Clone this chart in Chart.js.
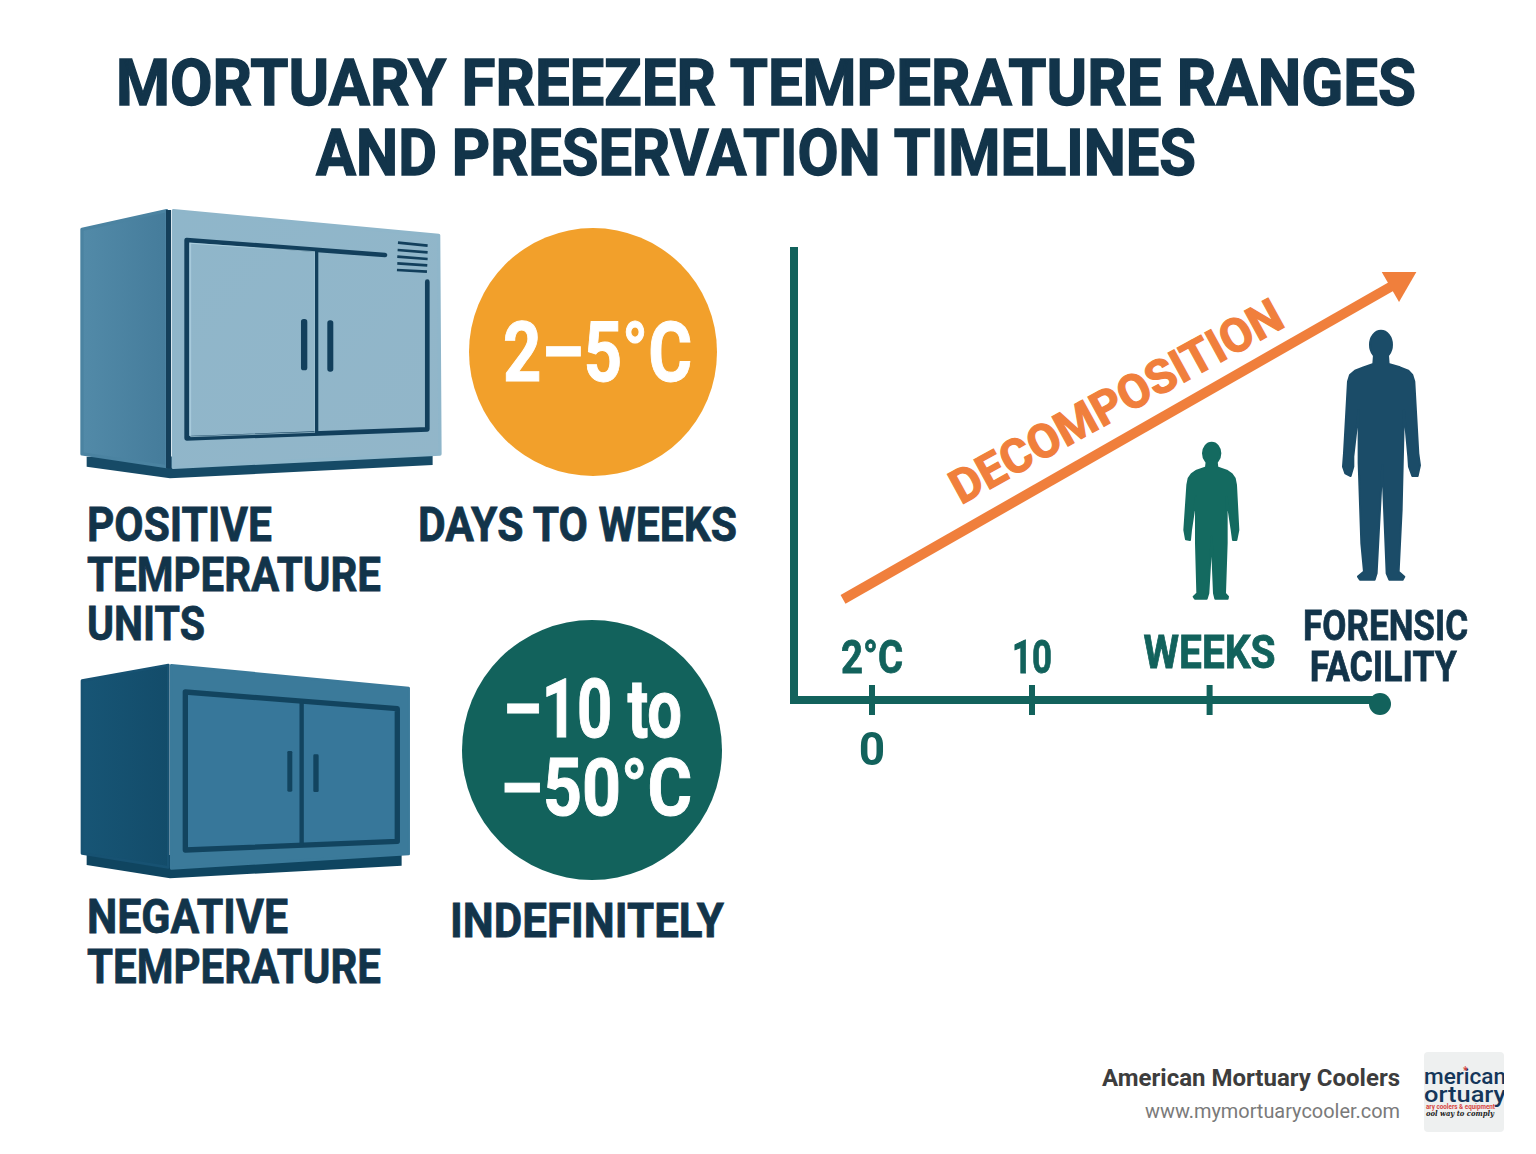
<!DOCTYPE html>
<html>
<head>
<meta charset="utf-8">
<title>Mortuary Freezer Temperature Ranges and Preservation Timelines</title>
<script src="https://cdn.jsdelivr.net/npm/chart.js@4"></script>
<style>
html,body{margin:0;padding:0;background:#fff;width:1536px;height:1154px;overflow:hidden}
svg{position:absolute;left:0;top:0}
canvas{position:absolute;left:770px;top:230px}
text{font-family:Roboto,sans-serif;font-weight:700}
.h{stroke:#12344a;stroke-width:1.4px}
.s{stroke:#12344a;stroke-width:.8px}
</style>
</head>
<body>
<svg width="1536" height="1154" viewBox="0 0 1536 1154" xmlns="http://www.w3.org/2000/svg">
<defs>
<linearGradient id="s1" x1="0" x2="1" y1="0" y2="0"><stop offset="0" stop-color="#528aa8"/><stop offset="1" stop-color="#457c9b"/></linearGradient>
<linearGradient id="f1" x1="0" x2="1" y1="0" y2="1"><stop offset="0" stop-color="#8fb6ca"/><stop offset="1" stop-color="#92b6c9"/></linearGradient>
<linearGradient id="s2" x1="0" x2="1" y1="0" y2="0"><stop offset="0" stop-color="#175575"/><stop offset="1" stop-color="#134c6a"/></linearGradient>
<clipPath id="logoClip"><rect x="1424" y="1052" width="80" height="80" rx="4"/></clipPath>
</defs>

<g fill="#12344a">
<text class="h" x="116" y="105" font-size="65" textLength="1300" lengthAdjust="spacingAndGlyphs">MORTUARY FREEZER TEMPERATURE RANGES</text>
<text class="h" x="316" y="175" font-size="65" textLength="880" lengthAdjust="spacingAndGlyphs">AND PRESERVATION TIMELINES</text>
<text class="s" x="87" y="541" font-size="49" textLength="185" lengthAdjust="spacingAndGlyphs">POSITIVE</text>
<text class="s" x="87" y="591" font-size="49" textLength="294" lengthAdjust="spacingAndGlyphs">TEMPERATURE</text>
<text class="s" x="87" y="640" font-size="49" textLength="118" lengthAdjust="spacingAndGlyphs">UNITS</text>
<text class="s" x="418" y="541" font-size="49" textLength="319" lengthAdjust="spacingAndGlyphs">DAYS TO WEEKS</text>
<text class="s" x="87" y="933" font-size="49" textLength="201" lengthAdjust="spacingAndGlyphs">NEGATIVE</text>
<text class="s" x="87" y="983" font-size="49" textLength="294" lengthAdjust="spacingAndGlyphs">TEMPERATURE</text>
<text class="s" x="450" y="937" font-size="49" textLength="274" lengthAdjust="spacingAndGlyphs">INDEFINITELY</text>
</g>

<!-- freezer 1 -->
<g transform="translate(60,200) scale(0.3333)" stroke-linejoin="round" stroke-linecap="round">
<polygon points="80,770 80,800 330,835 1118,795 1118,768" fill="#164a66"/>
<polygon points="66,88 320,32 320,800 66,762" fill="url(#s1)" stroke="#4b83a1" stroke-width="10"/>
<polygon points="340,32 1136,106 1140,762 340,802" fill="url(#f1)" stroke="#8fb6ca" stroke-width="10"/>
<rect x="318" y="30" width="15" height="775" fill="#143f5a"/>
<polyline points="975,165 380,120 380,715 1102,688 1102,245" fill="none" stroke="#123f5c" stroke-width="14"/>
<polyline points="392,130 765,155 765,697 392,710 392,130" fill="none" stroke="#b9dbe9" stroke-width="2"/>
<line x1="770" y1="155" x2="770" y2="695" stroke="#123f5c" stroke-width="10"/>
<rect x="723" y="357" width="19" height="154" rx="8" fill="#123f5c"/>
<rect x="802" y="361" width="18" height="154" rx="8" fill="#123f5c"/>
<g stroke="#123f5c" stroke-width="8" stroke-linecap="butt">
<line x1="1014" y1="128" x2="1103" y2="137"/>
<line x1="1013" y1="150" x2="1103" y2="157"/>
<line x1="1012" y1="170" x2="1103" y2="177"/>
<line x1="1012" y1="190" x2="1102" y2="196"/>
<line x1="1011" y1="210" x2="1101" y2="215"/>
</g>
</g>

<!-- freezer 2 -->
<g transform="translate(60,650) scale(0.3333)" stroke-linejoin="round" stroke-linecap="round">
<polygon points="80,615 80,645 330,685 1025,647 1025,615" fill="#0f4560"/>
<polygon points="66,92 325,45 325,652 66,610" fill="url(#s2)" stroke="#175272" stroke-width="8"/>
<polygon points="334,46 1046,114 1046,612 334,655" fill="#3b7a9a" stroke="#3b7a9a" stroke-width="8"/>
<polygon points="376,126 1012,176 1012,574 376,600" fill="#37779a" stroke="#12445f" stroke-width="16"/>
<line x1="725" y1="155" x2="725" y2="582" stroke="#12445f" stroke-width="13"/>
<rect x="682" y="303" width="15" height="122" rx="4" fill="#12445f"/>
<rect x="760" y="313" width="16" height="113" rx="4" fill="#12445f"/>
</g>

<circle cx="593" cy="352" r="124" fill="#f2a02b"/>
<text x="503" y="381" font-size="84" fill="#fff" stroke="#fff" stroke-width="1" textLength="189" lengthAdjust="spacingAndGlyphs">2–5°C</text>
<circle cx="592" cy="750" r="130" fill="#12625c"/>
<text x="503" y="737" font-size="82" fill="#fff" stroke="#fff" stroke-width="1" textLength="179" lengthAdjust="spacingAndGlyphs">–10 to</text>
<text x="500" y="815" font-size="80" fill="#fff" stroke="#fff" stroke-width="1" textLength="192" lengthAdjust="spacingAndGlyphs">–50°C</text>

<!-- figures -->
<g transform="translate(1160,310) scale(0.3333)" stroke-width="6" stroke-linejoin="round">
<g fill="#1b4c68" stroke="#1b4c68">
<ellipse cx="663" cy="104" rx="33" ry="42"/>
<polygon points="642,135 684,135 686,162 720,172 745,182 757,195 763,215 775,430 780,466 773,498 757,498 747,470 745,440 732,300 725,600 716,785 733,800 728,809 688,809 680,790 667,465 650,790 644,809 600,809 594,800 612,785 604,700 596,460 596,300 580,440 580,470 572,498 556,490 549,470 552,430 564,215 570,195 585,182 610,172 640,162"/>
</g>
<g fill="#146a60" stroke="#146a60">
<ellipse cx="155" cy="430" rx="26" ry="32"/>
<polygon points="140,455 170,455 172,472 200,482 215,492 224,505 228,525 235,660 229,690 219,690 215,660 200,560 200,700 195,850 204,860 203,866 166,866 162,850 155,680 145,850 140,866 105,866 101,860 112,850 108,700 108,560 93,660 90,690 78,688 73,660 82,525 86,505 95,492 110,482 138,472"/>
</g>
</g>

<text transform="translate(961,505) rotate(-28.8)" font-size="47" fill="#f07f3c" stroke="#f07f3c" stroke-width="1.2" textLength="372" lengthAdjust="spacingAndGlyphs">DECOMPOSITION</text>

<!-- footer -->
<text x="1102" y="1086" font-size="24" fill="#3d3d3d" font-weight="600" textLength="298" lengthAdjust="spacingAndGlyphs">American Mortuary Coolers</text>
<text x="1145" y="1118" font-size="20" fill="#7a7a7a" style="font-weight:400" textLength="255" lengthAdjust="spacingAndGlyphs">www.mymortuarycooler.com</text>
<rect x="1424" y="1052" width="80" height="80" rx="4" fill="#eef0f0"/>
<g clip-path="url(#logoClip)">
<text x="1424" y="1084" font-size="22" fill="#14365a" style="font-weight:500" textLength="82" lengthAdjust="spacingAndGlyphs">merican</text>
<text x="1424" y="1102" font-size="22" fill="#14365a" style="font-weight:500" textLength="82" lengthAdjust="spacingAndGlyphs">ortuary</text>
<text x="1426" y="1109" font-size="7.5" fill="#d6443f" textLength="69" lengthAdjust="spacingAndGlyphs">ary coolers &amp; equipment</text>
<text x="1426" y="1116" font-size="8" fill="#222" style="font-family:'DejaVu Serif';font-style:italic" textLength="68" lengthAdjust="spacingAndGlyphs">ool way to comply</text>
<text x="1463" y="1074" font-size="10" fill="#d6443f">*</text>
</g>
</svg>

<canvas id="c" width="720" height="560"></canvas>

<script>
// X axis positions (temperature / time scale)
const tickValues = [0, 10, 21.1];
const axisEnd = 31.75;
const lowerLabels = ["0", "", ""];
const upperLabels = ["2°C", "10", "WEEKS", "FORENSIC", "FACILITY"];
const upperLabelX = [0, 10, 21.1, 32.1, 31.95];
// Decomposition trend
const trendX = [-1.81, 32.94];
const trendY = [22.4, 93.1];
const tickMarkY = [0, 0, 0];
const endMarkY = -0.9;

const TEAL = '#12625c', NAVY = '#12344a', ORANGE = '#f07f3c';

const upperStyle = [
  {dy:-27, w:62, c:TEAL}, {dy:-27, w:40, c:TEAL}, {dy:-32, w:132, c:TEAL},
  {dy:-60, w:165, c:NAVY}, {dy:-19, w:147, c:NAVY}
];

const upperLabelPlugin = {
  id: 'upperLabels',
  afterDatasetsDraw(chart) {
    const {ctx, scales:{x, y}} = chart;
    ctx.save();
    ctx.textAlign = 'center';
    ctx.textBaseline = 'alphabetic';
    ctx.lineWidth = 0.8;
    upperLabels.forEach((t, i) => {
      const st = upperStyle[i];
      ctx.font = '700 ' + (i > 2 ? 43 : 46) + 'px Roboto, sans-serif';
      ctx.fillStyle = st.c;
      ctx.strokeStyle = st.c;
      const px = x.getPixelForValue(upperLabelX[i]), py = y.getPixelForValue(0) + st.dy;
      ctx.fillText(t, px, py, st.w);
      ctx.strokeText(t, px, py, st.w);
    });
    ctx.restore();
  }
};

new Chart(document.getElementById('c'), {
  type: 'scatter',
  data: {
    datasets: [
      {
        label: 'Decomposition',
        showLine: true,
        data: trendX.map((v, i) => ({x: v, y: trendY[i]})),
        borderColor: ORANGE,
        backgroundColor: ORANGE,
        borderWidth: 10,
        pointRadius: [0, 20],
        pointStyle: 'triangle',
        pointRotation: [0, 60],
        pointBorderWidth: 0,
        clip: false
      },
      {
        label: 'Ticks',
        data: tickValues.map((v, i) => ({x: v, y: tickMarkY[i]})),
        pointStyle: 'line',
        pointRotation: 90,
        pointRadius: 15,
        pointBorderWidth: 6,
        pointBorderColor: TEAL,
        clip: false
      },
      {
        label: 'End',
        data: [{x: axisEnd, y: endMarkY}],
        pointStyle: 'circle',
        pointRadius: 11,
        pointBackgroundColor: TEAL,
        pointBorderWidth: 0,
        clip: false
      }
    ]
  },
  options: {
    responsive: false,
    animation: false,
    devicePixelRatio: 1,
    layout: {padding: {left: 24, top: 11, right: 110, bottom: 0}},
    plugins: {legend: {display: false}, tooltip: {enabled: false}, title: {display: false}},
    scales: {
      x: {
        type: 'linear',
        min: -4.875,
        max: axisEnd,
        afterBuildTicks(s) { s.ticks = tickValues.map(v => ({value: v})); },
        afterFit(s) { s.height = 90; },
        grid: {display: false, drawTicks: false},
        border: {display: true, color: TEAL, width: 8},
        ticks: {
          autoSkip: false, maxRotation: 0, padding: 26, color: TEAL,
          font: {family: 'Roboto, sans-serif', size: 46, weight: '700'},
          callback(v) { const i = tickValues.indexOf(v); return i >= 0 ? lowerLabels[i] : ''; }
        }
      },
      y: {
        type: 'linear',
        min: 0,
        max: 100,
        afterFit(s) { s.width = 0; },
        grid: {display: false, drawTicks: false},
        border: {display: true, color: TEAL, width: 8},
        ticks: {display: false}
      }
    }
  },
  plugins: [upperLabelPlugin]
});
</script>
</body>
</html>
